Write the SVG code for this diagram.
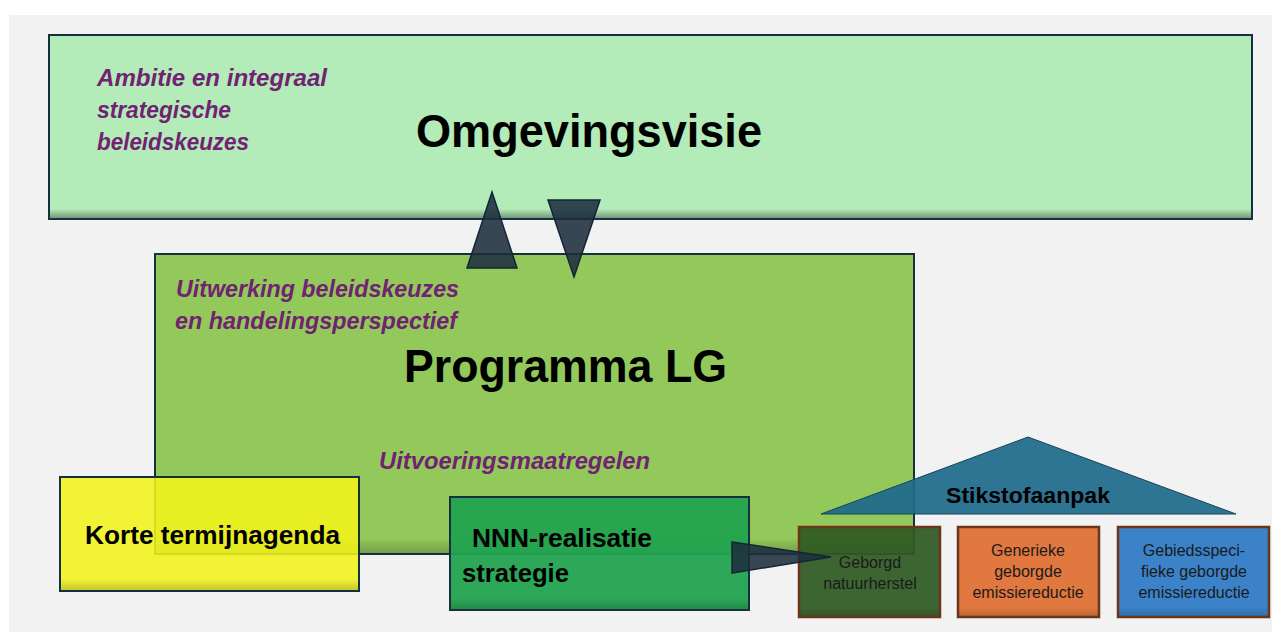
<svg xmlns="http://www.w3.org/2000/svg" width="1272" height="632" viewBox="0 0 1272 632">
<defs>
<linearGradient id="shade" x1="0" y1="0" x2="0" y2="1">
<stop offset="0.95" stop-color="#000" stop-opacity="0"/>
<stop offset="1" stop-color="#000" stop-opacity="0.35"/>
</linearGradient>
<linearGradient id="shade2" x1="0" y1="0" x2="0" y2="1">
<stop offset="0.9" stop-color="#000" stop-opacity="0"/>
<stop offset="1" stop-color="#000" stop-opacity="0.3"/>
</linearGradient>
<style>
.box{stroke:#16303f;stroke-width:2}
.small{stroke:#6b3518;stroke-width:2.5}
.it{font-family:"Liberation Sans",Arial,sans-serif;font-weight:bold;font-style:italic;fill:#712272;font-size:23px}
.big{font-family:"Liberation Sans",Arial,sans-serif;font-weight:bold;fill:#000;font-size:47px}
.lbl{font-family:"Liberation Sans",Arial,sans-serif;font-weight:bold;fill:#000;font-size:25px}
.sm{font-family:"Liberation Sans",Arial,sans-serif;fill:#1a1a1a;font-size:16px;text-anchor:middle}
.tri{fill:#1e2e3e;fill-opacity:0.88;stroke:#142535;stroke-width:1.5}
</style>
</defs>
<rect x="0" y="0" width="1272" height="632" fill="#ffffff"/>
<rect x="9" y="15" width="1263" height="617" fill="#f2f2f2"/>

<g id="omgevingsvisie">
<rect class="box" x="49" y="35" width="1203" height="184" fill="#b3ebb9"/>
<rect x="50" y="36" width="1201" height="182" fill="url(#shade)"/>
<text class="it" x="97" y="86" textLength="230" lengthAdjust="spacingAndGlyphs">Ambitie en integraal</text>
<text class="it" x="97" y="118" textLength="134" lengthAdjust="spacingAndGlyphs">strategische</text>
<text class="it" x="97" y="150" textLength="152" lengthAdjust="spacingAndGlyphs">beleidskeuzes</text>
<text class="big" x="416" y="147" textLength="346" lengthAdjust="spacingAndGlyphs">Omgevingsvisie</text>
</g>

<g id="programma-lg">
<rect class="box" x="155" y="254" width="759" height="300" fill="#93c95b"/>
<rect x="156" y="255" width="757" height="298" fill="url(#shade)" opacity="0.6"/>
<text class="it" x="176" y="297" textLength="283" lengthAdjust="spacingAndGlyphs">Uitwerking beleidskeuzes</text>
<text class="it" x="175" y="329" textLength="282" lengthAdjust="spacingAndGlyphs">en handelingsperspectief</text>
<text class="big" x="404" y="382" textLength="323" lengthAdjust="spacingAndGlyphs">Programma LG</text>
<text class="it" x="379" y="469" textLength="271" lengthAdjust="spacingAndGlyphs">Uitvoeringsmaatregelen</text>
</g>

<g id="korte-termijnagenda">
<rect class="box" x="60" y="477" width="299" height="114" fill="#f3f31a" fill-opacity="0.88"/>
<rect x="61" y="478" width="297" height="112" fill="url(#shade2)" opacity="0.6"/>
<text class="lbl" x="85" y="544" textLength="255" lengthAdjust="spacingAndGlyphs">Korte termijnagenda</text>
</g>

<g id="nnn-realisatie">
<rect class="box" x="450" y="497" width="299" height="113" fill="#21a34f" fill-opacity="0.95"/>
<rect x="451" y="498" width="297" height="111" fill="url(#shade2)" opacity="0.6"/>
<text class="lbl" x="472" y="547" textLength="180" lengthAdjust="spacingAndGlyphs">NNN-realisatie</text>
<text class="lbl" x="462" y="582" textLength="107" lengthAdjust="spacingAndGlyphs">strategie</text>
</g>

<g id="stikstofaanpak">
<polygon points="1028,437 1236,514 821,514" fill="#1f6b8c" fill-opacity="0.93" stroke="#17455a" stroke-width="1"/>
<text x="1028" y="503" text-anchor="middle" font-family="Liberation Sans, Arial, sans-serif" font-weight="bold" font-size="22" textLength="164" lengthAdjust="spacingAndGlyphs" fill="#000">Stikstofaanpak</text>
</g>

<g id="geborgd-natuurherstel">
<rect class="small" x="799" y="527" width="141" height="90" fill="#2f5a22" fill-opacity="0.93"/>
<rect x="800" y="528" width="139" height="88" fill="url(#shade2)" opacity="0.5"/>
<text class="sm" x="870" y="568">Geborgd</text>
<text class="sm" x="870" y="589">natuurherstel</text>
</g>

<g id="generieke-emissiereductie">
<rect class="small" x="958" y="527" width="141" height="90" fill="#e07840"/>
<rect x="959" y="528" width="139" height="88" fill="url(#shade2)" opacity="0.5"/>
<text class="sm" x="1028" y="556">Generieke</text>
<text class="sm" x="1028" y="577">geborgde</text>
<text class="sm" x="1028" y="598">emissiereductie</text>
</g>

<g id="gebiedsspecifieke-emissiereductie">
<rect class="small" x="1118" y="527" width="151" height="90" fill="#3b82c9"/>
<rect x="1119" y="528" width="149" height="88" fill="url(#shade2)" opacity="0.5"/>
<text class="sm" x="1194" y="556">Gebiedsspeci-</text>
<text class="sm" x="1194" y="577">fieke geborgde</text>
<text class="sm" x="1194" y="598">emissiereductie</text>
</g>

<g id="connectors">
<polygon class="tri" points="492,192 517,268 467,268"/>
<polygon class="tri" points="548,200 600,200 574,277"/>
<polygon class="tri" points="732,542 831,557 732,573"/>
</g>
</svg>
